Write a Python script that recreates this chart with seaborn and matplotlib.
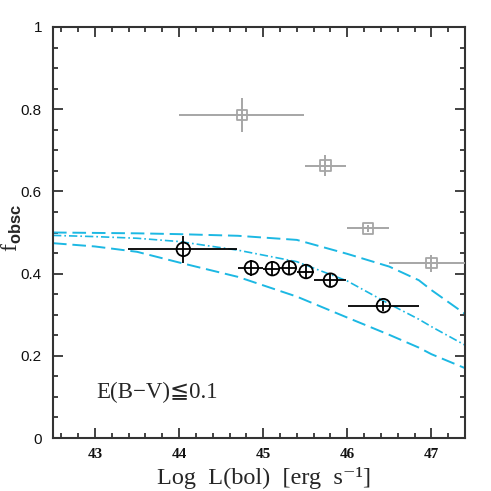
import numpy as np
import pandas as pd
import matplotlib
matplotlib.use("Agg")
import matplotlib.pyplot as plt
import seaborn as sns
from matplotlib.ticker import MultipleLocator

# ---- data ----
# black circles (E(B-V) <= 0.1 sample)
blk_x = [44.05, 44.86, 45.11, 45.31, 45.51, 45.80, 46.43]
blk_y = [0.459, 0.414, 0.412, 0.414, 0.405, 0.384, 0.322]
blk_xlo = [43.39, 44.70, 45.00, 45.20, 45.40, 45.60, 46.01]
blk_xhi = [44.69, 45.00, 45.20, 45.40, 45.60, 45.99, 46.85]
blk_yerr = [0.032, 0.020, 0.018, 0.017, 0.017, 0.014, 0.012]

# gray squares
gry_x = [44.75, 45.74, 46.25, 47.00]
gry_y = [0.786, 0.663, 0.510, 0.425]
gry_xlo = [44.00, 45.50, 46.00, 46.50]
gry_xhi = [45.49, 45.99, 46.50, 47.50]
gry_yerr = [0.042, 0.026, 0.008, 0.020]

# model curves
mod_x = [42.5, 43.0, 43.5, 44.0, 44.7, 45.4, 46.0, 46.5, 46.85, 47.0, 47.4]
mod_upper = [0.500, 0.499, 0.498, 0.496, 0.492, 0.482, 0.448, 0.417, 0.384, 0.360, 0.302]
mod_mid = [0.493, 0.490, 0.486, 0.478, 0.457, 0.429, 0.382, 0.326, 0.289, 0.271, 0.226]
mod_lower = [0.474, 0.466, 0.453, 0.427, 0.392, 0.344, 0.293, 0.251, 0.220, 0.204, 0.170]

xticks = [43, 44, 45, 46, 47]
yticks = [0, 0.2, 0.4, 0.6, 0.8, 1]
ytick_labels = ["0", "0.2", "0.4", "0.6", "0.8", "1"]

# ---- figure ----
sns.set_style("ticks")
plt.rcParams['font.family'] = ['DejaVu Sans']
plt.rcParams['mathtext.fontset'] = 'custom'
plt.rcParams['mathtext.rm'] = 'Liberation Serif'
plt.rcParams['mathtext.bf'] = 'Liberation Sans:bold'
fig = plt.figure(figsize=(4.91, 4.91), dpi=100)
ax = fig.add_axes([53/491, 53/491, 412/491, 411/491])

cyan = "#1cb8e3"
dfm = pd.DataFrame({"x": mod_x, "upper": mod_upper, "mid": mod_mid, "lower": mod_lower})
sns.lineplot(data=dfm, x="x", y="upper", ax=ax, color=cyan, lw=1.4)
sns.lineplot(data=dfm, x="x", y="lower", ax=ax, color=cyan, lw=1.4)
sns.lineplot(data=dfm, x="x", y="mid", ax=ax, color=cyan, lw=1.2)
lines = ax.get_lines()
lines[0].set_dashes([7, 3])
lines[1].set_dashes([7, 3])
lines[2].set_dashes([5, 1.8, 1, 1.8])

# gray squares
gx = np.array(gry_x); gy = np.array(gry_y)
ax.errorbar(gx, gy, xerr=[gx - np.array(gry_xlo), np.array(gry_xhi) - gx],
            yerr=gry_yerr, fmt="none", ecolor="#a6a6a6", elinewidth=1.4, capsize=0, zorder=3)
dfg = pd.DataFrame({"x": gry_x, "y": gry_y})
sns.scatterplot(data=dfg, x="x", y="y", ax=ax, marker="s", s=55, facecolor="none",
                edgecolor="#a6a6a6", linewidth=1.3, zorder=4)

# black circles
bx = np.array(blk_x); by = np.array(blk_y)
ax.errorbar(bx, by, xerr=[bx - np.array(blk_xlo), np.array(blk_xhi) - bx],
            yerr=blk_yerr, fmt="none", ecolor="black", elinewidth=1.3, capsize=0, zorder=5)
dfb = pd.DataFrame({"x": blk_x, "y": blk_y})
sns.scatterplot(data=dfb, x="x", y="y", ax=ax, marker="o", s=95, facecolor="none",
                edgecolor="black", linewidth=1.3, zorder=6)

ax.set_xlim(42.5, 47.4)
ax.set_ylim(0, 1)
ax.set_xticks(xticks)
ax.set_yticks(yticks)
ax.set_yticklabels(ytick_labels)
ax.xaxis.set_minor_locator(MultipleLocator(0.2))
ax.yaxis.set_minor_locator(MultipleLocator(0.05))
ax.tick_params(which="both", direction="in", top=True, right=True, width=1.2, colors="#222222")
ax.tick_params(which="major", length=7)
ax.tick_params(which="minor", length=3.5)
ax.tick_params(axis="x", which="major", pad=7)
ax.tick_params(axis="y", which="major", pad=8)
for lab in ax.get_xticklabels():
    lab.set_family(['Liberation Serif', 'DejaVu Serif'])
    lab.set_fontweight("bold")
    lab.set_fontsize(11)
    lab.set_color("#111111")
for lab in ax.get_yticklabels():
    lab.set_family(['Liberation Sans', 'DejaVu Sans'])
    lab.set_fontsize(11)
    lab.set_color("#111111")
for sp in ax.spines.values():
    sp.set_linewidth(1.5)
    sp.set_color("#333333")

serif = ['Liberation Serif', 'DejaVu Serif', 'DejaVu Sans']
ax.set_xlabel("Log  L(bol)  [erg  s\u207b\u00b9]", fontsize=17.5, family=serif)
ax.xaxis.set_label_coords(0.513, -0.097)
ax.xaxis.label.set_va("center")
ax.set_ylabel(r"$\mathrm{f}_{\mathbf{obsc}}$", fontsize=17)
ax.yaxis.set_label_coords(-0.1, 0.51)
ax.yaxis.label.set_va("center")
ax.text(0.104, 0.112, "E(B\u2212V)\u22660.1", transform=ax.transAxes, fontsize=16.5,
        family=serif, ha="left", va="center")

fig.savefig("out.png", dpi=100)
